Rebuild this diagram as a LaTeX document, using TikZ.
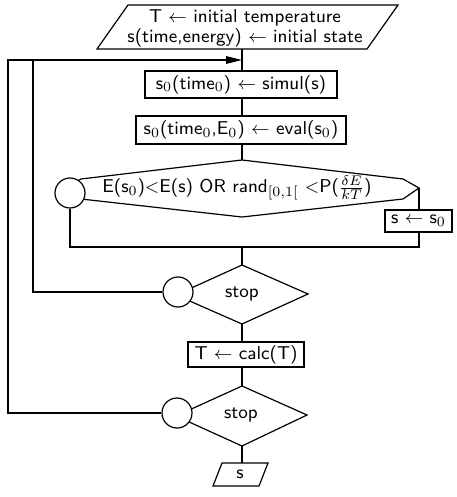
\documentclass[tikz,border=0pt]{standalone}
\usetikzlibrary{arrows.meta}
\begin{document}
\begin{tikzpicture}[x=0.5pt,y=-0.5pt,line width=0.6pt,
  font=\sffamily\fontsize{9.3}{10}\selectfont,
  box/.style={draw,rectangle,inner sep=0pt,anchor=center},
  lbl/.style={inner sep=0pt,anchor=center},
  conn/.style={draw,circle,fill=white,inner sep=0pt,minimum size=15pt},
  arr/.style={-{Triangle[length=8pt,width=3.8pt]}}]
\useasboundingbox (0,0) rectangle (456,497);

% input parallelogram
\coordinate (inTL) at (128,5);
\coordinate (inTR) at (398,5);
\coordinate (inBR) at (367,49);
\coordinate (inBL) at (97,49);
\draw (inTL) -- (inTR) -- (inBR) -- (inBL) -- cycle;
\node[lbl,align=center] (intext) at (245,28) {T $\leftarrow$ initial temperature\\[0pt]s(time,energy) $\leftarrow$ initial state};
\coordinate (inB) at (242,49);

% boxes
\node[box,minimum width=96pt,minimum height=13.5pt] (b1) at (241,84.5) {s$_0$(time$_0$) $\leftarrow$ simul(s)};
\node[box,minimum width=105pt,minimum height=14pt] (b2) at (241,130) {s$_0$(time$_0$,E$_0$) $\leftarrow$ eval(s$_0$)};

% hexagon test
\coordinate (hT) at (242,160);
\coordinate (hUR) at (403,179);
\coordinate (hR) at (419,188);
\coordinate (hLR) at (403,199);
\coordinate (hB) at (242,217);
\coordinate (hLL) at (81,199);
\coordinate (hL) at (65,188);
\coordinate (hUL) at (81,179);
\draw (hT) -- (hUR) -- (hR) -- (hLR) -- (hB) -- (hLL) -- (hL) -- (hUL) -- cycle;
\node[lbl] (htext) at (237,188) {E(s$_0$)$<$E(s) OR rand$_{[0,1[}$ $<$P($\frac{\delta E}{kT}$)};
\node[conn] (c0) at (70,193) {};
\node[box,minimum width=33.5pt,minimum height=11pt] (bs) at (418.5,221) {s $\leftarrow$ s$_0$};
\coordinate (mj) at (242,247);

% stop 1
\coordinate (s1T) at (242,265);
\coordinate (s1R) at (308,294);
\coordinate (s1B) at (242,324);
\coordinate (s1L) at (176,295);
\draw (s1T) -- (s1R) -- (s1B) -- (s1L) -- cycle;
\node[lbl] (s1text) at (242,294) {stop};
\node[conn] (c1) at (178,292) {};

% calc
\node[box,minimum width=58pt,minimum height=12.5pt] (bc) at (246,354.5) {T $\leftarrow$ calc(T)};

% stop 2
\coordinate (s2T) at (242,386);
\coordinate (s2R) at (307,415);
\coordinate (s2B) at (242,446);
\coordinate (s2L) at (176,416);
\draw (s2T) -- (s2R) -- (s2B) -- (s2L) -- cycle;
\node[lbl] (s2text) at (241,415) {stop};
\node[conn] (c2) at (177,413) {};

% output
\coordinate (oTL) at (222,463);
\coordinate (oTR) at (268,463);
\coordinate (oBR) at (259,486);
\coordinate (oBL) at (213,486);
\draw (oTL) -- (oTR) -- (oBR) -- (oBL) -- cycle;
\node[lbl] (otext) at (240,474) {s};
\coordinate (oT) at (242,463);

% loops
\coordinate (loopO) at (8,60);
\coordinate (loopI) at (33,60);
\coordinate (join) at (242,60);

% connectors
\draw (inB) -- (inB |- b1.north);
\draw (inB |- b1.south) -- (inB |- b2.north);
\draw (inB |- b2.south) -- (hT);
\draw (hR) -- (hR |- bs.north);
\draw (hR |- bs.south) |- (mj) -| (c0.south);
\draw (mj) -- (s1T);
\draw (s1B) -- (s1B |- bc.north);
\draw (s1B |- bc.south) -- (s2T);
\draw (s2B) -- (oT);
\draw (c1.west) -| (loopI);
\draw[arr] (c2.west) -| (loopO) -- (join);
\end{tikzpicture}
\end{document}
